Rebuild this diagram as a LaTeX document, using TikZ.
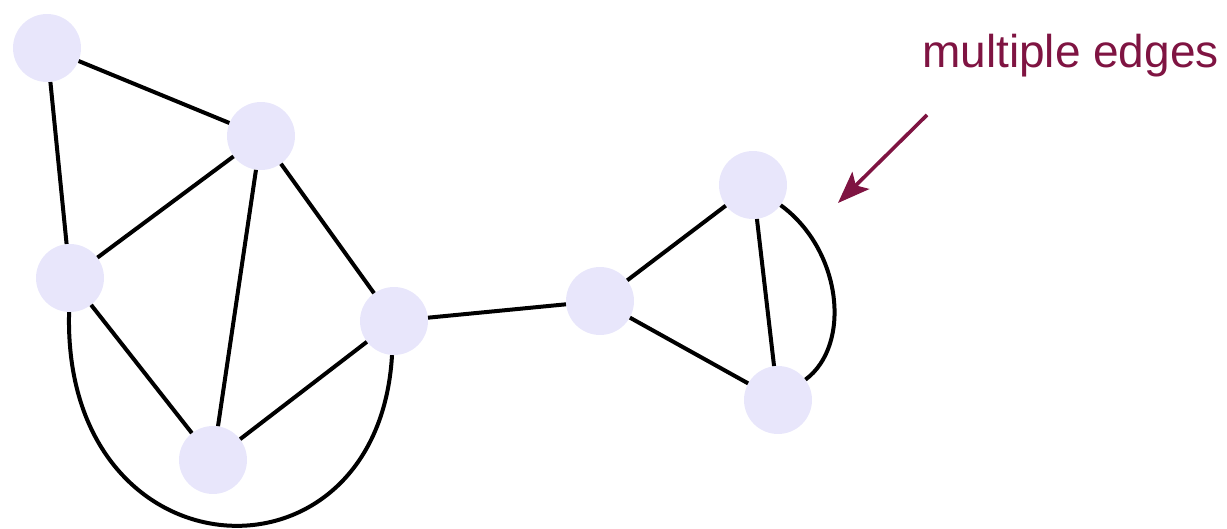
\documentclass[tikz,border=0pt]{standalone}
\usepackage{fontspec}
\setmainfont{Liberation Sans}
\usetikzlibrary{arrows.meta}
\definecolor{vfill}{HTML}{E8E6FB}
\definecolor{note}{HTML}{7F1442}
\begin{document}
\begin{tikzpicture}[x=1pt,y=-1pt,
  vert/.style={circle,fill=vfill,minimum size=68pt,inner sep=0pt},
  edge/.style={line width=4pt,black},
  notearrow/.style={line width=3.6pt,note,-{Stealth[length=32pt,width=24pt,inset=7pt]}}]
\useasboundingbox (0,0) rectangle (1227,529);
\node[vert] (A) at (47,48) {};
\node[vert] (B) at (261,136) {};
\node[vert] (C) at (70,278) {};
\node[vert] (D) at (394,321) {};
\node[vert] (E) at (213,460) {};
\node[vert] (F) at (600,301) {};
\node[vert] (G) at (753,185) {};
\node[vert] (H) at (778,400) {};
\draw[edge] (A) -- (B);
\draw[edge] (A) -- (C);
\draw[edge] (B) -- (C);
\draw[edge] (B) -- (E);
\draw[edge] (B) -- (D);
\draw[edge] (C) -- (E);
\draw[edge] (E) -- (D);
\draw[edge] (D) -- (F);
\draw[edge] (F) -- (G);
\draw[edge] (F) -- (H);
\draw[edge] (G) -- (H);
\draw[edge] (G) .. controls (842,250) and (852,345) .. (H);
\draw[edge] (C) .. controls (62,580) and (378,598) .. (D);
\node[anchor=base west,text=note,font=\fontsize{46}{52}\selectfont,inner sep=0pt] (T) at (922,68) {multiple edges};
\coordinate (S) at (927,115);
\coordinate (P) at (838,203);
\draw[notearrow] (S) -- (P);
\end{tikzpicture}
\end{document}
